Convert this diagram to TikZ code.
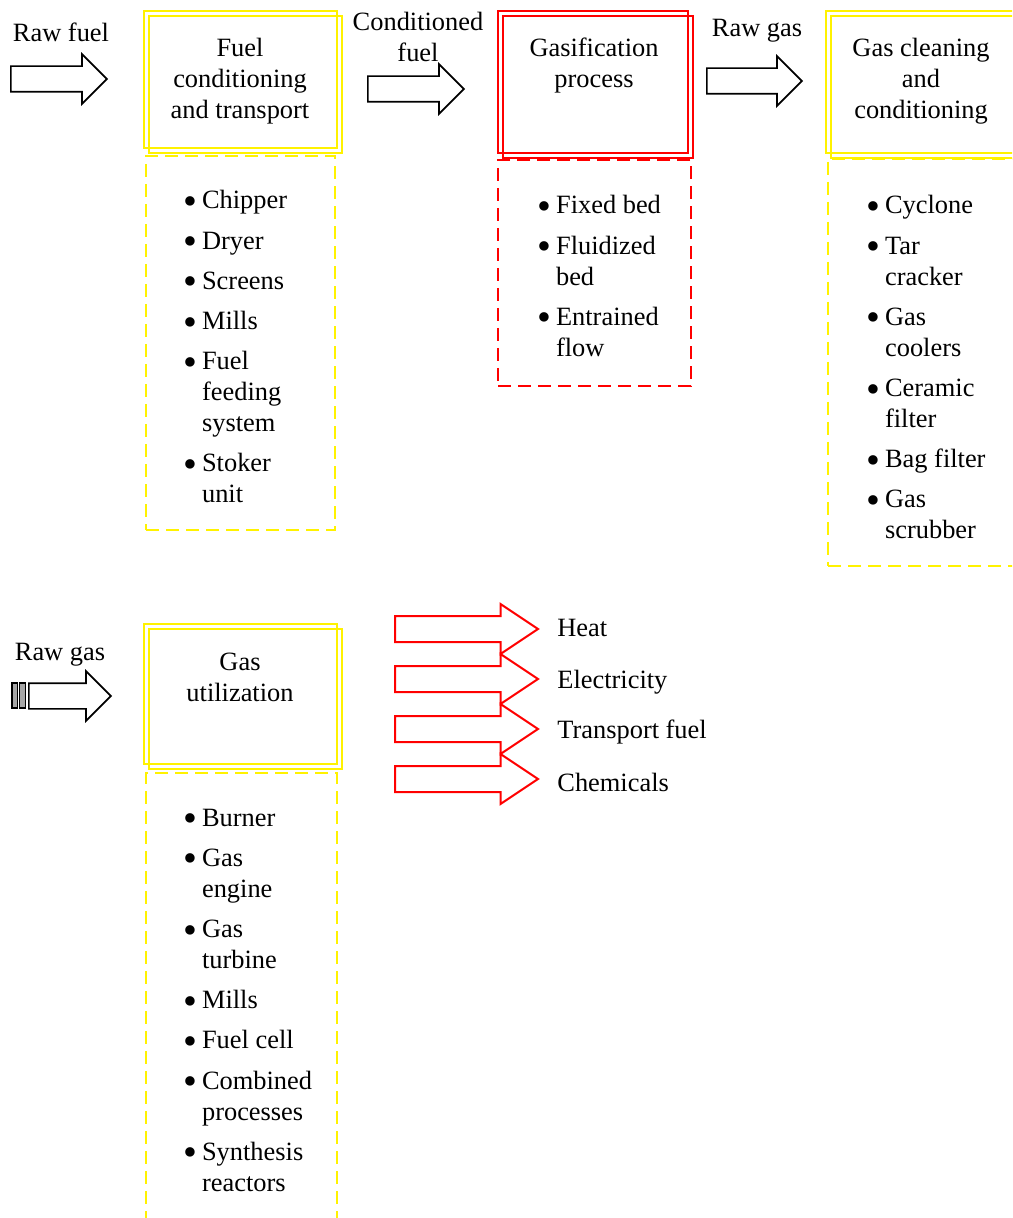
\documentclass[tikz,border=0pt]{standalone}
\usepackage{fontspec}
\setmainfont{Liberation Serif}
\usetikzlibrary{shapes.arrows}

\tikzset{
  txt/.style={font=\fontsize{13.2}{15.5}\selectfont, inner sep=0pt},
  labeltext/.style={txt, anchor=base},
  listtext/.style={txt, anchor=base west},
  dblbox/.style={draw=#1, line width=1pt, inner sep=0pt, anchor=north west},
  listframe/.style={draw=#1, line width=1pt, dash pattern=on 6.5pt off 3.5pt, inner sep=0pt, anchor=north west},
  blockarrow/.style={single arrow, draw=black, line width=0.85pt, inner xsep=0pt, inner ysep=6pt,
    single arrow head extend=6pt, single arrow tip angle=90, minimum height=#1, anchor=tail},
  outarrow/.style={single arrow, draw=red, line width=1pt, inner xsep=0pt, inner ysep=6pt,
    single arrow head extend=6pt, single arrow tip angle=67.4, minimum height=71.5pt, anchor=tail},
}
\newcommand{\itemgap}{4.6pt}
\newcommand{\bul}{\raisebox{-2.8pt}{\scalebox{1.5}{\textbullet}}}

\begin{document}
\begin{tikzpicture}[x=0.5pt, y=-0.5pt]

    % page frame, 1 unit = 1 pixel of the reference
    \useasboundingbox (0,0) rectangle (1012,1218);
    \clip (0,0) rectangle (1012,1218);

    % --- top row: input arrows and labels
    \node[blockarrow=48pt] (rawfuel) at (10,79) {};
    \node[labeltext] (rawfuellbl) at (61,42) {Raw fuel};

    \node[blockarrow=48pt] (condfuel) at (367,89) {};
    \node[labeltext] (condfuellbl) at (418,31) {\begin{tabular}[t]{@{}c@{}}Conditioned\\fuel\end{tabular}};

    \node[blockarrow=47.5pt] (rawgas) at (706,81) {};
    \node[labeltext] (rawgaslbl) at (757,37) {Raw gas};

    % --- fuel conditioning
    \node[dblbox=yellow, minimum width=96.5pt, minimum height=68.5pt] (fuelA) at (143,10) {};
    \node[dblbox=yellow, minimum width=96.5pt, minimum height=68.5pt] (fuelB) at (148,15) {};
    \node[labeltext] (fueltitle) at (240,57) {\begin{tabular}[t]{@{}c@{}}Fuel\\conditioning\\and transport\end{tabular}};
    \node[listframe=yellow, minimum width=94.5pt, minimum height=187pt] (fuelframe) at (145,155) {};
    \node[listtext] (fuellist) at (183,209) {\begin{tabular}[t]{@{}l@{\hspace{2.4pt}}l@{}}
        \bul & Chipper\\[\itemgap]
        \bul & Dryer\\[\itemgap]
        \bul & Screens\\[\itemgap]
        \bul & Mills\\[\itemgap]
        \bul & Fuel\\ & feeding\\ & system\\[\itemgap]
        \bul & Stoker\\ & unit
    \end{tabular}};

    % --- gasification
    \node[dblbox=red, minimum width=95pt, minimum height=71pt] (gasA) at (497,10) {};
    \node[dblbox=red, minimum width=95pt, minimum height=71pt] (gasB) at (502,15) {};
    \node[labeltext] (gastitle) at (594,57) {\begin{tabular}[t]{@{}c@{}}Gasification\\process\end{tabular}};
    \node[listframe=red, minimum width=96.5pt, minimum height=113pt] (gasframe) at (497,159) {};
    \node[listtext] (gaslist) at (537,214) {\begin{tabular}[t]{@{}l@{\hspace{2.4pt}}l@{}}
        \bul & Fixed bed\\[\itemgap]
        \bul & Fluidized\\ & bed\\[\itemgap]
        \bul & Entrained\\ & flow
    \end{tabular}};

    % --- gas cleaning
    \node[dblbox=yellow, minimum width=97.5pt, minimum height=71pt] (cleanA) at (825,10) {};
    \node[dblbox=yellow, minimum width=97.5pt, minimum height=71pt] (cleanB) at (830,15) {};
    \node[labeltext] (cleantitle) at (921,57) {\begin{tabular}[t]{@{}c@{}}Gas cleaning\\and\\conditioning\end{tabular}};
    \node[listframe=yellow, minimum width=97.5pt, minimum height=203.5pt] (cleanframe) at (827,158) {};
    \node[listtext] (cleanlist) at (866,214) {\begin{tabular}[t]{@{}l@{\hspace{2.4pt}}l@{}}
        \bul & Cyclone\\[\itemgap]
        \bul & Tar\\ & cracker\\[\itemgap]
        \bul & Gas\\ & coolers\\[\itemgap]
        \bul & Ceramic\\ & filter\\[\itemgap]
        \bul & Bag filter\\[\itemgap]
        \bul & Gas\\ & scrubber
    \end{tabular}};

    % --- bottom row: gas utilization
    \draw[fill=gray!70, line width=0.75pt] (12,683) rectangle (17.5,708);
    \draw[fill=gray!70, line width=0.75pt] (19.5,683) rectangle (25.5,708);
    \node[blockarrow=41pt] (rawgasB) at (28,696) {};
    \node[labeltext] (rawgasBlbl) at (60,660) {Raw gas};

    \node[dblbox=yellow, minimum width=96.5pt, minimum height=70pt] (utilA) at (143,623) {};
    \node[dblbox=yellow, minimum width=96.5pt, minimum height=70pt] (utilB) at (148,628) {};
    \node[labeltext] (utiltitle) at (240,670) {\begin{tabular}[t]{@{}c@{}}Gas\\utilization\end{tabular}};
    \node[listframe=yellow, minimum width=95.5pt, minimum height=230pt] (utilframe) at (145,772) {};
    \node[listtext] (utillist) at (183,826) {\begin{tabular}[t]{@{}l@{\hspace{2.4pt}}l@{}}
        \bul & Burner\\[\itemgap]
        \bul & Gas\\ & engine\\[\itemgap]
        \bul & Gas\\ & turbine\\[\itemgap]
        \bul & Mills\\[\itemgap]
        \bul & Fuel cell\\[\itemgap]
        \bul & Combined\\ & processes\\[\itemgap]
        \bul & Synthesis\\ & reactors
    \end{tabular}};

    % products
    \foreach \yy/\by/\nm/\txt in {629/636/heat/Heat, 679/688/elec/Electricity, 729/738/tfuel/Transport fuel, 779/791/chem/Chemicals}{
        \node[outarrow] (\nm) at (394,\yy) {};
        \node[listtext] (\nm lbl) at (557,\by) {\txt};
    }

\end{tikzpicture}
\end{document}
